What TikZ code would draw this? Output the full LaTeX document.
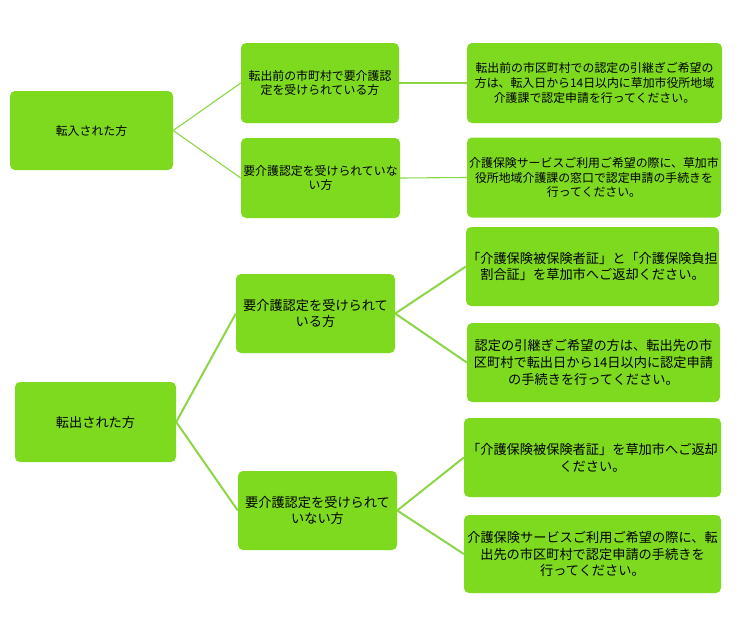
\documentclass[tikz,border=0pt]{standalone}
\usepackage{fontspec}
\setmainfont{Noto Sans CJK JP}
\definecolor{boxgreen}{RGB}{126,218,30}
\definecolor{linegreen}{RGB}{140,214,70}
\tikzset{
  gbox/.style={fill=boxgreen, draw=none, rounded corners=5pt, align=center, inner sep=1pt, text=black},
  upper/.style={gbox, font=\fontsize{11.9}{14.8}\selectfont},
  lower/.style={gbox, font=\fontsize{13.2}{16.8}\selectfont},
  thinline/.style={draw=linegreen, line width=1.1pt},
  thickline/.style={draw=linegreen, line width=2pt},
}
\begin{document}
\begin{tikzpicture}[x=1pt,y=-1pt]
\useasboundingbox (0,0) rectangle (754,632);
% upper group
\node[upper, minimum width=163pt, minimum height=79pt] (A) at (91.5,130.5) {転入された方};
\node[upper, minimum width=158pt, minimum height=80pt] (B1) at (320,83) {転出前の市町村で要介護認\\定を受けられている方};
\node[upper, minimum width=159pt, minimum height=80pt] (B2) at (320.5,178) {要介護認定を受けられていな\\い方};
\node[upper, minimum width=255pt, minimum height=80pt] (C1) at (594.5,83) {転出前の市区町村での認定の引継ぎご希望の\\方は、転入日から14日以内に草加市役所地域\\介護課で認定申請を行ってください。};
\node[upper, minimum width=254pt, minimum height=80pt] (C2) at (594,177.5) {介護保険サービスご利用ご希望の際に、草加市\\役所地域介護課の窓口で認定申請の手続きを\\行ってください。};
% lower group
\node[lower, minimum width=161pt, minimum height=80pt] (D) at (95.5,422) {転出された方};
\node[lower, minimum width=159pt, minimum height=79pt] (E1) at (315.5,313.5) {要介護認定を受けられて\\いる方};
\node[lower, minimum width=159pt, minimum height=79pt] (E2) at (317.5,510.5) {要介護認定を受けられて\\いない方};
\node[lower, minimum width=251pt, minimum height=79pt] (F1) at (592.5,266.5) {「介護保険被保険者証」と「介護保険負担\\割合証」を草加市へご返却ください。};
\node[lower, minimum width=253pt, minimum height=79pt] (F2) at (593.5,362.5) {認定の引継ぎご希望の方は、転出先の市\\区町村で転出日から14日以内に認定申請\\の手続きを行ってください。};
\node[lower, minimum width=257pt, minimum height=79pt] (F3) at (592.5,457.5) {「介護保険被保険者証」を草加市へご返却\\ください。};
\node[lower, minimum width=257pt, minimum height=78pt] (F4) at (592.5,554) {介護保険サービスご利用ご希望の際に、転\\出先の市区町村で認定申請の手続きを\\行ってください。};
% connectors
\draw[thinline] (A.east) -- (B1.west);
\draw[thinline] (A.east) -- (B2.west);
\draw[thinline] (B1.east) -- (C1.west);
\draw[thinline] (B2.east) -- (C2.west);
\draw[thickline] (D.east) -- (E1.west);
\draw[thickline] (D.east) -- (E2.west);
\draw[thickline] (E1.east) -- (F1.west);
\draw[thickline] (E1.east) -- (F2.west);
\draw[thickline] (E2.east) -- (F3.west);
\draw[thickline] (E2.east) -- (F4.west);
\end{tikzpicture}
\end{document}
